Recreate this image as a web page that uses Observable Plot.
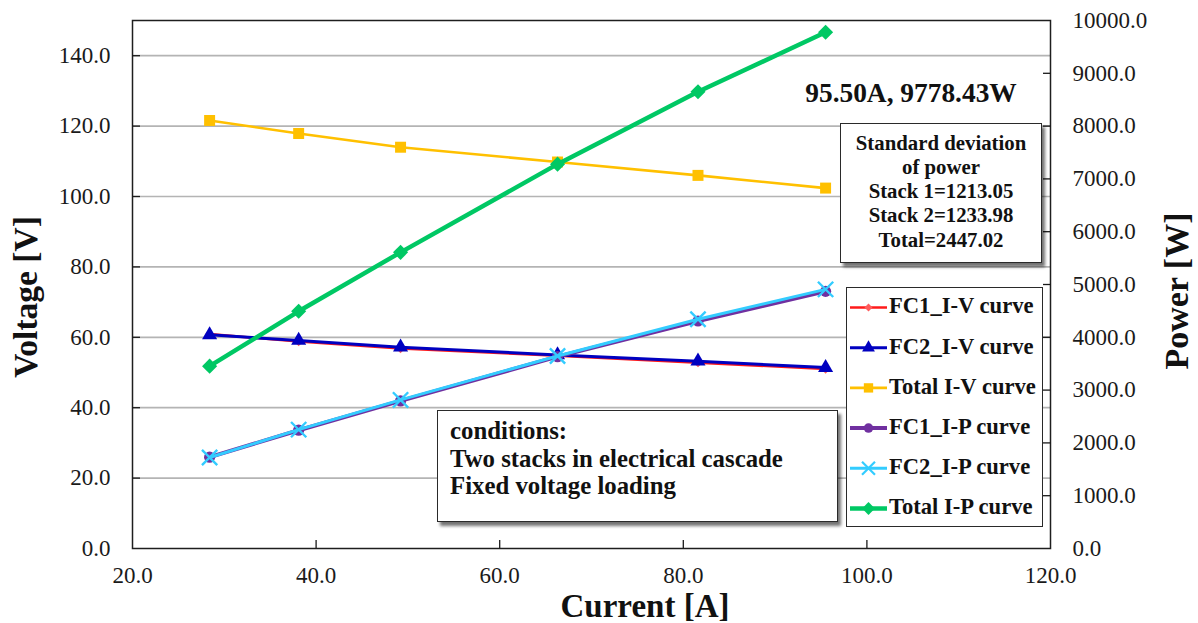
<!DOCTYPE html>
<html>
<head>
<meta charset="utf-8">
<script src="https://cdn.jsdelivr.net/npm/d3@7"></script>
<script src="https://cdn.jsdelivr.net/npm/@observablehq/plot@0.6"></script>
<style>
  body { margin: 0; background: #fff; }
  #wrap { position: relative; width: 1198px; height: 623px; overflow: hidden;
          font-family: "Liberation Serif", "Times New Roman", serif; color: #111; }
  #wrap svg.plot { position: absolute; left: 0; top: 0; }
  .box { position: absolute; background: #fff; border: 1.5px solid #2a2a2a; box-sizing: border-box; }
  .shadow { box-shadow: 3px 4px 3px rgba(0,0,0,0.55); }
  .t { position: absolute; white-space: nowrap; }
</style>
</head>
<body>
<div id="wrap"></div>
<script>
// ---------------- data ----------------
const current      = [28.4, 38.1, 49.2, 66.3, 81.6, 95.5];
const fc1Voltage   = [60.9, 58.8, 56.8, 54.8, 52.8, 51.0];
const fc2Voltage   = [60.7, 59.1, 57.2, 55.0, 53.2, 51.39];
const totalVoltage = [121.6, 117.9, 114.0, 109.8, 106.0, 102.39];
const fc1Power     = [1729.6, 2240.3, 2794.6, 3633.2, 4308.5, 4870.5];
const fc2Power     = [1723.9, 2251.7, 2814.2, 3646.5, 4341.1, 4907.7];
const totalPower   = [3453.5, 4492.0, 5608.8, 7279.7, 8649.6, 9778.2];

const seriesNames  = ["FC1_I-V curve", "FC2_I-V curve", "Total I-V curve",
                      "FC1_I-P curve", "FC2_I-P curve", "Total I-P curve"];
const xTicks       = [20, 40, 60, 80, 100, 120];
const voltageTicks = [0, 20, 40, 60, 80, 100, 120, 140];
const powerTicks   = [0, 1000, 2000, 3000, 4000, 5000, 6000, 7000, 8000, 9000, 10000];

const peakLabel    = "95.50A, 9778.43W";
const stdLines     = ["Standard deviation", "of power", "Stack 1=1213.05", "Stack 2=1233.98", "Total=2447.02"];
const condLines    = ["conditions:", "Two stacks in electrical cascade", "Fixed voltage loading"];
const xTitle = "Current [A]", yTitle = "Voltage [V]", y2Title = "Power [W]";

// ---------------- styles ----------------
const seriesStyle = [
  {key: "fc1V",   axis: "V", stroke: "#ff1a1a", fill: "#ff5c5c", symbol: "diamond2", r: 4.2, sw: 2.6},
  {key: "fc2V",   axis: "V", stroke: "#0000c0", fill: "#0000c0", symbol: "triangle", r: 5.6, sw: 3},
  {key: "totalV", axis: "V", stroke: "#ffc000", fill: "#ffc000", symbol: "square",   r: 6.2, sw: 2.6},
  {key: "fc1P",   axis: "P", stroke: "#7030a0", fill: "#7030a0", symbol: "circle",   r: 5.6, sw: 4},
  {key: "fc2P",   axis: "P", stroke: "#33ccff", fill: "none",    symbol: "times",    r: 7,   sw: 3},
  {key: "totalP", axis: "P", stroke: "#00c864", fill: "#00c864", symbol: "diamond2", r: 6.8, sw: 4.5}
];

const rows = current.map((c, i) => ({
  current: c, fc1V: fc1Voltage[i], fc2V: fc2Voltage[i], totalV: totalVoltage[i],
  fc1P: fc1Power[i], fc2P: fc2Power[i], totalP: totalPower[i]
}));

const W = 1198, H = 623;
const frameOpts = {width: W, height: H, marginLeft: 132, marginRight: 148, marginTop: 20, marginBottom: 75};
const fmt1 = d => d.toFixed(1);

function seriesMarks(axis) {
  const marks = [];
  for (const s of seriesStyle.filter(s => s.axis === axis)) {
    marks.push(Plot.line(rows, {x: "current", y: s.key, stroke: s.stroke, strokeWidth: s.sw}));
    if (s.fill === "none") {
      marks.push(Plot.dot(rows, {x: "current", y: s.key, symbol: s.symbol, r: s.r, stroke: s.stroke, strokeWidth: 2.4, fill: "none"}));
    } else {
      marks.push(Plot.dot(rows, {x: "current", y: s.key, symbol: s.symbol, r: s.r, fill: s.fill, stroke: "none"}));
    }
  }
  return marks;
}

const plotV = Plot.plot({
  ...frameOpts,
  className: "plot",
  style: {fontFamily: "'Liberation Serif', serif", fontSize: "23px", color: "#1a1a1a", background: "#fff"},
  x: {domain: [20, 120], label: null},
  y: {domain: [0, 150], label: null},
  marks: [
    Plot.ruleY(voltageTicks.slice(1), {stroke: "#b4b4b4", strokeWidth: 1.7}),
    Plot.frame({stroke: "#1e1e1e", strokeWidth: 1.5}),
    Plot.axisY({anchor: "left", ticks: voltageTicks, tickFormat: fmt1, tickSize: 0, tickPadding: 22, label: null}),
    Plot.axisY({anchor: "left", ticks: voltageTicks.slice(1), text: null, tickSize: -8, label: null, strokeWidth: 1.3}),
    Plot.axisX({anchor: "bottom", ticks: xTicks, tickFormat: fmt1, tickSize: 0, tickPadding: 18.5, label: null}),
    Plot.axisX({anchor: "bottom", ticks: xTicks.slice(1, -1), text: null, tickSize: -8, label: null, strokeWidth: 1.3}),
    ...seriesMarks("V")
  ]
});

const plotP = Plot.plot({
  ...frameOpts,
  className: "plot",
  style: {fontFamily: "'Liberation Serif', serif", fontSize: "23px", color: "#1a1a1a", background: "transparent"},
  x: {domain: [20, 120], axis: null},
  y: {domain: [0, 10000], label: null},
  marks: [
    Plot.axisY({anchor: "right", ticks: powerTicks, tickFormat: fmt1, tickSize: 0, tickPadding: 22, label: null}),
    Plot.axisY({anchor: "right", ticks: powerTicks.slice(1, -1), text: null, tickSize: -8, label: null, strokeWidth: 1.3}),
    ...seriesMarks("P")
  ]
});

const wrap = document.getElementById("wrap");
plotV.classList.add("plot");
plotP.classList.add("plot");
wrap.appendChild(plotV);
wrap.appendChild(plotP);

// ---------------- annotation helpers ----------------
// line box = lh * size; baseline sits (0.891 - (1.107 - lh)/2) * size below its top
function text(txt, x, baseline, size, {align = "left", weight = "bold", lh = 1} = {}) {
  const d = document.createElement("div");
  d.className = "t";
  d.textContent = txt;
  d.style.fontSize = size + "px";
  d.style.lineHeight = (lh * size) + "px";
  d.style.fontWeight = weight;
  d.style.top = (baseline - (0.891 - (1.107 - lh) / 2) * size) + "px";
  if (align === "center") {
    d.style.left = (x - 300) + "px"; d.style.width = "600px"; d.style.textAlign = "center";
  } else d.style.left = x + "px";
  wrap.appendChild(d);
  return d;
}
function box(x, y, w, h, shadow) {
  const d = document.createElement("div");
  d.className = "box" + (shadow ? " shadow" : "");
  Object.assign(d.style, {left: x + "px", top: y + "px", width: w + "px", height: h + "px"});
  wrap.appendChild(d);
}
function rotated(txt, cx, cy, size) {
  const d = document.createElement("div");
  d.className = "t";
  d.textContent = txt;
  Object.assign(d.style, {fontSize: size + "px", lineHeight: size + "px", fontWeight: "bold",
    left: cx + "px", top: cy + "px", transform: "translate(-50%,-50%) rotate(-90deg)"});
  wrap.appendChild(d);
}

// axis titles
rotated(yTitle, 26, 297, 33.5);
rotated(y2Title, 1177, 291, 34);
const xt = text(xTitle, 645, 618, 33, {align: "center", lh: 0.7});
xt.style.width = "190px"; xt.style.left = (645 - 95) + "px";

// peak annotation
text(peakLabel, 911, 103, 27.4, {align: "center"});

// standard deviation box
box(840, 123, 202, 140, true);
stdLines.forEach((s, i) => text(s, 941, 150 + i * 24.3, 20.8, {align: "center"}));

// conditions box
box(437, 410, 401, 112, true);
condLines.forEach((s, i) => text(s, 450, 440 + i * 27.6, 24.8));

// legend
box(846, 287, 197, 240, false);
const lg = d3.select(wrap).append("svg")
  .attr("width", 60).attr("height", 240)
  .style("position", "absolute").style("left", "846px").style("top", "287px");
const symMap = {diamond2: d3.symbolDiamond2, triangle: d3.symbolTriangle, square: d3.symbolSquare,
                circle: d3.symbolCircle, times: d3.symbolTimes};
seriesStyle.forEach((s, i) => {
  const cy = 20.5 + i * 40.2;
  lg.append("line").attr("x1", 4).attr("x2", 41).attr("y1", cy).attr("y2", cy)
    .attr("stroke", s.stroke).attr("stroke-width", s.sw);
  const sym = d3.symbol().type(symMap[s.symbol]).size(Math.PI * (s.r * 0.85) ** 2);
  const p = lg.append("path").attr("d", sym()).attr("transform", `translate(22.5,${cy})`);
  if (s.fill === "none") p.attr("fill", "none").attr("stroke", s.stroke).attr("stroke-width", 2.2);
  else p.attr("fill", s.fill);
  text(seriesNames[i], 889, 287 + cy + 6.8, 22.6);
});
</script>
</body>
</html>
